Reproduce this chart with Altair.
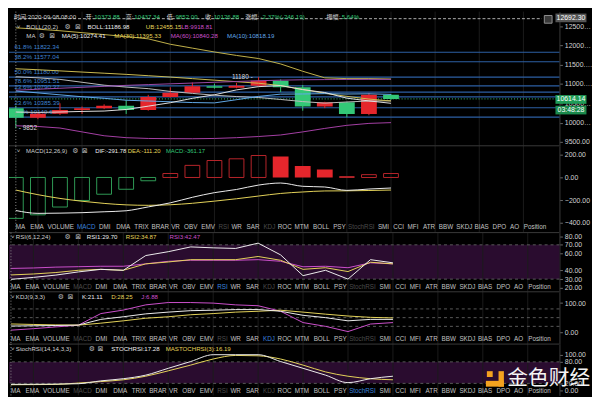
import altair as alt
import pandas as pd

# ---------------- data ----------------
candle_idx = list(range(18))
opens  = [10373.88, 10127, 10230, 10330, 10375, 10440, 10325, 10665, 10775, 10940, 10905, 10957, 11083, 10917, 10417, 10525, 10225, 10725]
highs  = [10437.34, 10260, 10500, 10417, 10475, 10583, 10720, 10915, 11040, 11010, 11030, 11180, 11120, 10975, 10540, 10540, 10770, 10740]
lows   = [9852.00, 10090, 10200, 10225, 10350, 10225, 10310, 10650, 10770, 10880, 10890, 10940, 10790, 10310, 10375, 10140, 10190, 10590]
closes = [10126.88, 10230, 10330, 10375, 10440, 10325, 10665, 10775, 10940, 10905, 10957, 11083, 10917, 10417, 10525, 10225, 10725, 10614.14]

boll_up  = [12455, 12420, 12380, 12330, 12280, 12230, 12170, 12030, 11930, 11830, 11740, 11660, 11520, 11330, 11160, 11140, 11140, 11130]
boll_mid = [11187, 11160, 11120, 11045, 10970, 10920, 10880, 10808, 10757, 10710, 10675, 10650, 10600, 10545, 10505, 10535, 10560, 10565]
boll_lo  = [9919, 9900, 9860, 9760, 9660, 9610, 9590, 9585, 9583, 9590, 9610, 9640, 9680, 9760, 9850, 9930, 9980, 10000]
ma5  = [10274, 10265, 10275, 10290, 10300, 10340, 10427, 10516, 10629, 10721, 10848, 10932, 10960, 10855, 10780, 10633, 10562, 10501]
ma10 = [10818, 10770, 10720, 10670, 10630, 10580, 10560, 10540, 10520, 10511, 10594, 10679, 10738, 10742, 10751, 10741, 10747, 10731]
ma30 = [11395, 11370, 11340, 11310, 11280, 11250, 11215, 11180, 11140, 11100, 11060, 11020, 10960, 10860, 10760, 10680, 10610, 10560]
ma60 = [10840, 10865, 10890, 10915, 10940, 10965, 10985, 11005, 11025, 11045, 11065, 11085, 11100, 11110, 11115, 11118, 11120, 11120]

fib_prices = [11822.34, 11577.04, 11180.00, 10951.51, 10790.37, 10667.00, 10385.39, 10140.63]
fib_labels = ["61.8% 11822.34", "38.2% 11577.04", "50.0% 11180.00", "78.6% 10951.51",
              "23.6% 10790.37", "", "23.6% 10385.39", "0.0% 10140.63"]

macd_hist = [-361.17, -330, -261, -203, -148, -104, -29, 35, 107, 150, 165, 194, 185, 101, 70, 8, 25, 35]
macd_solid = [False] * 12 + [True] * 3 + [False] * 3
macd_dif = [-291.78, -317, -315, -311, -303, -294, -260, -224, -175, -134, -106, -67, -49, -78, -84, -114, -102, -93]
macd_dea = [-111.20, -152, -185, -210, -229, -242, -246, -241, -228, -209, -188, -164, -141, -128, -119, -118, -115, -111]

rsi1 = [29.70, 32, 34.7, 38.4, 41.4, 40.3, 57.5, 62, 67.6, 66.5, 65.8, 72, 58.3, 34, 40.3, 30, 52.7, 49]
rsi2 = [34.87, 36, 37.7, 40.3, 41.4, 40.3, 47.8, 50, 52.7, 52.7, 52.7, 56.4, 52, 41.4, 43.3, 38.8, 49.7, 47.8]
rsi3 = [42.47, 43, 44, 44.5, 45, 45, 47.8, 50.8, 52, 52, 52, 52.7, 50.8, 44.4, 45, 43.3, 49, 47.8]

kdj_k = [21.11, 22, 23, 24.4, 44, 53, 63, 69, 74, 75.6, 77.8, 77.8, 72, 58, 50, 39, 44, 44]
kdj_d = [28.25, 26.5, 25, 24.2, 31, 39, 48, 53, 60, 64, 69, 72, 75.6, 69, 62, 55.6, 51, 49]
kdj_j = [6.88, 12, 18, 24, 64, 76, 94, 102, 102, 100, 94, 91, 72, 33, 20, 2, 28, 33]

stoch    = [17.28, 17.5, 18, 19, 27, 33, 43, 62, 81, 100, 100, 100, 81, 62, 43, 22, 33, 40]
stoch_ma = [16.19, 16.5, 17, 21, 25, 30, 40, 55, 71, 88, 98, 97, 88, 71, 52, 40, 33, 30]

price_ticks = [9500, 10000, 10500, 11000, 11500, 12000, 12500]
macd_ticks = [-400, -200, 0, 200]
rsi_ticks = [20, 30, 40, 60, 70, 80]
kdj_ticks = [0, 100]
stoch_ticks = [0, 20, 80, 100]

last_price = 10614.14
cross_price = 12692.30
countdown = "03:48:28"
high_mark = 11180
low_mark = 9852

tab_names = ["MA", "EMA", "VOLUME", "MACD", "DMI", "DMA", "TRIX", "BRAR", "VR", "OBV", "EMV", "RSI", "WR",
             "SAR", "KDJ", "ROC", "MTM", "BOLL", "PSY", "StochRSI", "SMI", "CCI", "MFI", "ATR", "BBW", "SKDJ",
             "BIAS", "DPO", "AO", "Position"]
used_tabs = ["MACD", "RSI", "KDJ", "StochRSI"]

# ---------------- layout / style ----------------
SX = 592 / 600
SY = 389 / 397
W = 558
XDOM = [-0.087, 24.41]
TAB_X = [2, 17, 35, 66, 89, 107, 126, 144, 164.5, 178, 196, 214, 227.5, 243.4, 261, 276, 293.5, 313, 334,
         349.5, 380.8, 396.8, 411.8, 428, 444.5, 462.8, 481.8, 500.8, 519, 533.5]
FONT_TXT = "Liberation Sans, Arial, Noto Sans CJK SC, sans-serif"
FONT_SANS = "Liberation Sans, Arial, sans-serif"
FONT_SYM = "DejaVu Sans, sans-serif"

GRAY = "#cfcfcf"
WHITE = "#eeeeee"
YELLOW = "#e6d45a"
MAGENTA = "#cc50cc"
LBLUE = "#62aaea"
GREEN = "#33c777"
RED = "#e5262c"
FIB = "#2c5fa3"
FIBTXT = "#3f82d0"


def px2i(px):
    return (px * SX - 1.97) / 22.78


def cx2i(px):
    return (px - 1.97) / 22.78


xsc = alt.Scale(domain=XDOM, nice=False, zero=False)


def X(f):
    return alt.X(f, type="quantitative", scale=xsc, axis=None)


class Panel:
    def __init__(self, top, href, dom, height, ticks):
        self.top, self.href, self.dom, self.h = top, href, dom, height
        self.ysc = alt.Scale(domain=dom, nice=False, zero=False)
        self.ax = alt.Axis(orient="right", values=ticks, format=".2f", grid=False, tickSize=3,
                           tickColor="#6a6a6a", domain=True, domainColor="#3a3a3a", labelColor="#d4d4d4",
                           labelFont=FONT_SANS, labelFontSize=7, labelPadding=2, labelLimit=28,
                           labelOverlap=False, labelFlush=False, title=None)

    def yv(self, r):
        lo, hi = self.dom
        return hi - (r - self.top) / self.href * (hi - lo)

    def Y(self, f):
        return alt.Y(f, type="quantitative", scale=self.ysc, axis=self.ax)


def text_layer(p, rows, size, font, align="left", **kw):
    df = pd.DataFrame({"x": [px2i(r[0]) for r in rows], "y": [p.yv(r[1]) for r in rows],
                       "t": [r[2] for r in rows], "c": [r[3] for r in rows]})
    return alt.Chart(df).mark_text(align=align, baseline="middle", font=font, fontSize=size, **kw).encode(
        x=X("x"), y=p.Y("y"), text="t:N", color=alt.Color("c:N", scale=None))


def grid_layer():
    df = pd.DataFrame({"g": list(range(1, 25, 2))})
    return alt.Chart(df).mark_rule(color="#1b1b1b", strokeWidth=1).encode(x=X("g"))


def cross_v():
    df = pd.DataFrame({"g": [0]})
    return alt.Chart(df).mark_rule(color="#8c8c8c", strokeDash=[1, 2], strokeWidth=1).encode(x=X("g"))


def top_sep(p):
    df = pd.DataFrame({"v": [p.dom[1]]})
    return alt.Chart(df).mark_rule(color="#3a3a3a", strokeWidth=1).encode(y=p.Y("v"))


def hrules(p, vals, color="#5a5a5a", dash=(3, 3)):
    df = pd.DataFrame({"v": vals})
    return alt.Chart(df).mark_rule(color=color, strokeDash=list(dash), strokeWidth=1).encode(y=p.Y("v"))


def band(p, a, b, color="#2a0c2f"):
    df = pd.DataFrame({"a": [a], "b": [b], "xa": [XDOM[0]], "xb": [XDOM[1]]})
    return alt.Chart(df).mark_rect(color=color).encode(x=X("xa"), x2="xb", y=p.Y("a"), y2="b")


def lines_layer(p, series, interp="linear"):
    rows = []
    for name, vals, col in series:
        for i, v in zip(candle_idx, vals):
            rows.append({"i": i, "v": v, "s": name, "c": col})
    df = pd.DataFrame(rows)
    return alt.Chart(df).mark_line(strokeWidth=1, clip=True, interpolate=interp).encode(
        x=X("i"), y=p.Y("v"), detail="s:N", color=alt.Color("c:N", scale=None), order="i:Q")


def icons_layer(p, x1, x2, yref):
    rows = [(x1, yref, "⚙", "#b8b8b8"), (x2, yref, "⊠", "#b8b8b8")]
    return text_layer(p, rows, 7, FONT_SYM)


def tab_layer(p, yref, active):
    rows = []
    for name, xr in zip(tab_names, TAB_X):
        if name == active:
            c = "#3b82db"
        elif name in used_tabs:
            c = "#4b4b4b"
        else:
            c = "#c2c2c2"
        rows.append((xr, yref, name, c))
    return text_layer(p, rows, 6.4, FONT_SANS)


# ---------------- main price panel ----------------
pm = Panel(0, 139, [9400, 12875], 136, price_ticks)

cdf = pd.DataFrame({"i": candle_idx, "o": opens, "h": highs, "l": lows, "cl": closes})
cdf["c"] = [RED if c >= o else GREEN for o, c in zip(opens, closes)]

wicks = alt.Chart(cdf).mark_rule(strokeWidth=1, clip=True).encode(
    x=X("i"), y=pm.Y("l"), y2="h", color=alt.Color("c:N", scale=None))
bodies = alt.Chart(cdf).mark_bar(size=16, clip=True, orient="vertical").encode(
    x=X("i"), y=pm.Y("o"), y2="cl", color=alt.Color("c:N", scale=None))

fdf = pd.DataFrame({"p": fib_prices, "t": fib_labels, "x": [px2i(0.5)] * len(fib_prices)})
fib_rules = alt.Chart(fdf).mark_rule(color=FIB, strokeWidth=1.2).encode(y=pm.Y("p"))
fib_text = alt.Chart(fdf).mark_text(align="left", baseline="middle", dy=-5, font=FONT_SANS, fontSize=6.3,
                                    color=FIBTXT).encode(x=X("x"), y=pm.Y("p"), text="t:N")

last_df = pd.DataFrame({"v": [last_price]})
last_rule = alt.Chart(last_df).mark_rule(color="#2a9a5e", strokeDash=[1, 2], strokeWidth=1.2).encode(y=pm.Y("v"))

ch_df = pd.DataFrame({"v": [cross_price], "xa": [XDOM[0]], "xb": [cx2i(545)]})
cross_h = alt.Chart(ch_df).mark_rule(color="#b0b0b0", strokeDash=[3, 2], strokeWidth=1).encode(
    x=X("xa"), x2="xb", y=pm.Y("v"))

main_lines = lines_layer(pm, [
    ("UB", boll_up, "#c2b24a"), ("LB", boll_lo, "#a640a6"), ("MID", boll_mid, "#bdbdbd"),
    ("MA30", ma30, "#cdbd52"), ("MA60", ma60, "#9a4aa8"), ("MA10", ma10, LBLUE), ("MA5", ma5, "#e0e0e0")])

header_rows = [
    (0, 5.5, "时间:2020-09-08 08:00", GRAY),
    (75, 5.5, "开:", GRAY), (84, 5.5, "10373.88", GREEN),
    (117, 5.5, "高:", GRAY), (126, 5.5, "10437.34", GREEN),
    (160, 5.5, "低:", GRAY), (169, 5.5, "9852.00", GREEN),
    (200, 5.5, "收:", GRAY), (209, 5.5, "10126.88", GREEN),
    (242, 5.5, "涨幅:", GRAY), (258, 5.5, "-2.37%(-246.19)", GREEN),
    (327, 5.5, "振幅:", GRAY), (343, 5.5, "5.64%", GREEN),
    (3, 16, "˅", GRAY), (13, 16, "BOLL(20,2)", GRAY),
    (77, 16, "BOLL:11186.98", WHITE), (138, 16, "UB:12455.15", YELLOW), (175, 16, "LB:9918.81", MAGENTA),
    (13, 25.5, "MA", GRAY),
    (50, 25.5, "MA(5):10274.41", WHITE), (105, 25.5, "MA(30):11395.33", YELLOW),
    (164, 25.5, "MA(60):10840.28", MAGENTA), (223, 25.5, "MA(10):10818.19", LBLUE),
]
header = text_layer(pm, header_rows, 6.2, FONT_TXT)
main_icons = alt.layer(icons_layer(pm, 53, 64, 16), icons_layer(pm, 26, 37, 25.5))

hl_df = pd.DataFrame({"i": [11], "v": [high_mark], "t": ["11180 -"]})
hl_txt = alt.Chart(hl_df).mark_text(align="right", baseline="middle", dx=-6, font=FONT_SANS, fontSize=6.5,
                                    color="#dddddd").encode(x=X("i"), y=pm.Y("v"), text="t:N")
lo_df = pd.DataFrame({"i": [0], "v": [low_mark], "t": ["- 9852"]})
lo_txt = alt.Chart(lo_df).mark_text(align="left", baseline="middle", dx=3, font=FONT_SANS, fontSize=6.5,
                                    color="#dddddd").encode(x=X("i"), y=pm.Y("v"), text="t:N")

tag_df = pd.DataFrame({
    "xa": [cx2i(W + 1)] * 3, "xb": [cx2i(W + 33)] * 3,
    "ya": [pm.yv(86.5), pm.yv(97.5), pm.yv(2)], "yb": [pm.yv(95.5), pm.yv(106.5), pm.yv(11)],
    "yt": [pm.yv(91), pm.yv(102), pm.yv(6.5)], "xt": [cx2i(W + 17)] * 3,
    "t": ["10614.14", countdown, "12692.30"], "c": ["#1f9d57", "#1b8a4c", "#555555"]})
tag_rect = alt.Chart(tag_df).mark_rect().encode(
    x=X("xa"), x2="xb", y=pm.Y("ya"), y2="yb", color=alt.Color("c:N", scale=None))
tag_text = alt.Chart(tag_df).mark_text(align="center", baseline="middle", font=FONT_SANS, fontSize=7,
                                       color="#ffffff").encode(x=X("xt"), y=pm.Y("yt"), text="t:N")
ic_df = pd.DataFrame({"xa": [cx2i(547.5)], "xb": [cx2i(555.5)], "ya": [pm.yv(4)], "yb": [pm.yv(12)]})
corner_icon = alt.Chart(ic_df).mark_rect(fill="#3a3a3a", stroke="#909090", strokeWidth=1).encode(
    x=X("xa"), x2="xb", y=pm.Y("ya"), y2="yb")

main = alt.layer(grid_layer(), fib_rules, fib_text, last_rule, cross_h, wicks, bodies, main_lines,
                 cross_v(), header, main_icons, hl_txt, lo_txt, tag_rect, tag_text, corner_icon
                 ).properties(width=W, height=136)

# ---------------- MACD panel ----------------
pmacd = Panel(139, 89.5, [-487, 280], 88, macd_ticks)
hcols = []
for v, s in zip(macd_hist, macd_solid):
    if v < 0:
        hcols.append("#2f9a55")
    elif s:
        hcols.append(RED)
    else:
        hcols.append("#b8252b")
hdf = pd.DataFrame({"i": candle_idx, "h": macd_hist, "z": [0] * 18, "c": hcols, "s": macd_solid})
h_hollow = alt.Chart(hdf[~hdf["s"]]).mark_bar(filled=False, size=15, strokeWidth=1, clip=True,
                                              orient="vertical").encode(
    x=X("i"), y=pmacd.Y("h"), y2="z", color=alt.Color("c:N", scale=None))
h_solid = alt.Chart(hdf[hdf["s"]]).mark_bar(size=16, clip=True, orient="vertical").encode(
    x=X("i"), y=pmacd.Y("h"), y2="z", color=alt.Color("c:N", scale=None))
macd_lines = lines_layer(pmacd, [("DEA", macd_dea, YELLOW), ("DIF", macd_dif, WHITE)], "monotone")
macd_legend = text_layer(pmacd, [(3, 144, "˅", GRAY), (12.7, 144, "MACD(12,26,9)", GRAY),
                                 (85, 144, "DIF:-291.78", WHITE), (119, 144, "DEA:-111.20", YELLOW),
                                 (159, 144, "MACD:-361.17", GREEN)], 6, FONT_TXT)
macd = alt.layer(grid_layer(), top_sep(pmacd), h_hollow, h_solid, macd_lines, cross_v(), macd_legend,
                 icons_layer(pmacd, 61, 71, 144), tab_layer(pmacd, 223, "MACD")
                 ).properties(width=W, height=88)

# ---------------- RSI panel ----------------
prsi = Panel(228.5, 61.5, [15.2, 84.3], 60, rsi_ticks)
rsi_lines = lines_layer(prsi, [("RSI3", rsi3, MAGENTA), ("RSI2", rsi2, YELLOW), ("RSI1", rsi1, WHITE)])
rsi_legend = text_layer(prsi, [(2, 233.5, "˅", GRAY), (7, 233.5, "RSI(6,12,24)", GRAY),
                               (80, 233.5, "RSI1:29.70", WHITE), (120, 233.5, "RSI2:34.87", YELLOW),
                               (165, 233.5, "RSI3:42.47", MAGENTA)], 6.2, FONT_TXT)
rsi = alt.layer(band(prsi, 30, 70), grid_layer(), hrules(prsi, [30, 70]), top_sep(prsi), rsi_lines, cross_v(),
                rsi_legend, icons_layer(prsi, 57, 68, 233.5), tab_layer(prsi, 285, "RSI")
                ).properties(width=W, height=60)

# ---------------- KDJ panel ----------------
pkdj = Panel(290, 54, [-41, 139], 53, kdj_ticks)
kdj_lines = lines_layer(pkdj, [("J", kdj_j, MAGENTA), ("D", kdj_d, YELLOW), ("K", kdj_k, WHITE)])
kdj_legend = text_layer(pkdj, [(2, 295, "˅", GRAY), (7, 295, "KDJ(9,3,3)", GRAY),
                               (75, 295, "K:21.11", WHITE), (105, 295, "D:28.25", YELLOW),
                               (136, 295, "J:6.88", MAGENTA)], 6.2, FONT_TXT)
kdj = alt.layer(grid_layer(), hrules(pkdj, [20, 50, 80]), top_sep(pkdj), kdj_lines, cross_v(), kdj_legend,
                icons_layer(pkdj, 50, 60, 295), tab_layer(pkdj, 339, "KDJ")
                ).properties(width=W, height=53)

# ---------------- StochRSI panel ----------------
pst = Panel(344, 53, [-13.5, 129.7], 52, stoch_ticks)
st_lines = lines_layer(pst, [("MA", stoch_ma, YELLOW), ("ST", stoch, WHITE)], "monotone")
st_legend = text_layer(pst, [(2, 349.5, "˅", GRAY), (7, 349.5, "StochRSI(14,14,3,3)", GRAY),
                             (105, 349.5, "STOCHRSI:17.28", WHITE),
                             (161, 349.5, "MASTOCHRSI(3):16.19", YELLOW)], 6.2, FONT_TXT)
logo_parts = [(491, 372, 497, 378), (503, 372, 508.5, 388), (490, 382, 508.5, 388)]
logo_df = pd.DataFrame({"xa": [px2i(a[0]) for a in logo_parts], "xb": [px2i(a[2]) for a in logo_parts],
                        "ya": [pst.yv(a[1]) for a in logo_parts], "yb": [pst.yv(a[3]) for a in logo_parts]})
logo = alt.Chart(logo_df).mark_rect(color="#f3a21f").encode(x=X("xa"), x2="xb", y=pst.Y("ya"), y2="yb")
wm = text_layer(pst, [(512, 380.5, "金色财经", "#f4f4f4")], 21, "Noto Sans CJK SC, sans-serif")
st = alt.layer(band(pst, 20, 80), grid_layer(), hrules(pst, [20, 80]), top_sep(pst), st_lines, cross_v(),
               st_legend, icons_layer(pst, 82, 91, 349.5), tab_layer(pst, 392.5, "StochRSI"), logo, wm
               ).properties(width=W, height=52)

chart = alt.vconcat(main, macd, rsi, kdj, st, spacing=0, bounds="flush").properties(
    padding=0, background="#000000").configure_view(stroke=None, fill="#000000")

chart.save("out.html", embed_options={"renderer": "svg", "actions": False})
